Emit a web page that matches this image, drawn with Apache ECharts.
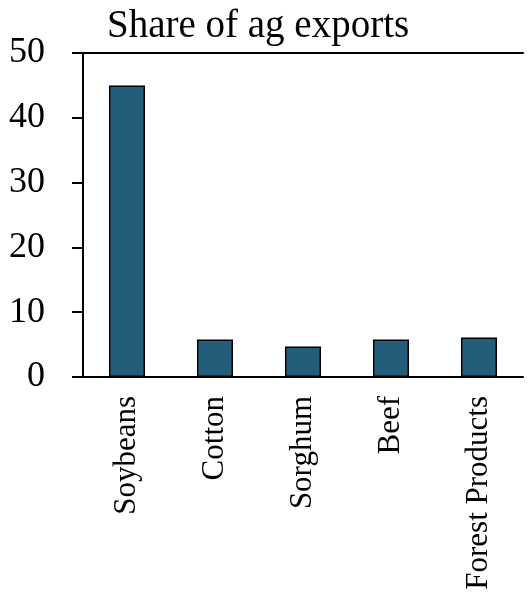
<!DOCTYPE html>
<html>
<head>
    <meta charset="utf-8">
    <title>Share of ag exports</title>
    <script src="https://cdn.jsdelivr.net/npm/echarts@6/dist/echarts.min.js"></script>
</head>
<body style="margin:0;background:#fff;">
<div id="chart" style="width: 529px;height:596px;"></div>

<script type="text/javascript">
    // 数据
    var categories = ['Soybeans', 'Cotton', 'Sorghum', 'Beef', 'Forest Products'];
    var shares = [45.0, 5.8, 4.7, 5.8, 6.1];
    var yTicks = [0, 10, 20, 30, 40, 50];

    var serif = '"Liberation Serif", "DejaVu Serif", serif';

    var chart = echarts.init(document.getElementById('chart'));

    var option = {
        animation: false,
        title: {
            text: 'Share of ag exports',
            left: 102,
            top: 2,
            textStyle: {
                fontFamily: serif,
                fontWeight: 'normal',
                fontSize: 39,
                color: '#000'
            }
        },
        grid: {
            left: 83,
            right: 6,
            top: 53,
            bottom: 219
        },
        xAxis: [{
            type: 'category',
            data: categories,
            axisLine: { lineStyle: { color: '#000', width: 2 } },
            axisTick: { length: 8, lineStyle: { color: '#000', width: 2 } },
            axisLabel: {
                rotate: 90,
                margin: 19,
                fontFamily: serif,
                fontSize: 31,
                color: '#000'
            }
        }, {
            // 顶部横线
            type: 'category',
            position: 'top',
            data: categories,
            axisLine: { show: true, lineStyle: { color: '#000', width: 2 } },
            axisTick: { show: false },
            axisLabel: { show: false }
        }],
        yAxis: {
            type: 'value',
            min: yTicks[0],
            max: yTicks[yTicks.length - 1],
            interval: 10,
            splitLine: { show: false },
            axisLine: { show: true, lineStyle: { color: '#000', width: 2 } },
            axisTick: { show: true, length: 11, lineStyle: { color: '#000', width: 2 } },
            axisLabel: {
                margin: 38,
                fontFamily: serif,
                fontSize: 36,
                color: '#000'
            }
        },
        series: [{
            name: 'Share',
            type: 'bar',
            data: shares,
            barWidth: '41%',
            itemStyle: {
                color: '#225e7a',
                borderColor: '#000',
                borderWidth: 1.5
            }
        }]
    };

    chart.setOption(option);
</script>
</body>
</html>
